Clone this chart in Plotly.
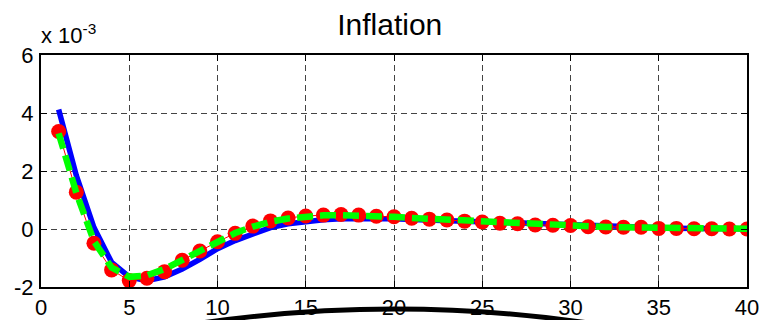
import plotly.graph_objects as go

# Horizon (periods)
periods = list(range(1, 41))

# Inflation responses, in units of 1e-3
model_a = [4.12, 1.85, 0.05, -1.15, -1.65, -1.78, -1.65, -1.38, -1.05, -0.68,
           -0.40, -0.15, 0.05, 0.18, 0.26, 0.32, 0.35, 0.36, 0.36, 0.35,
           0.33, 0.31, 0.28, 0.25, 0.22, 0.20, 0.17, 0.15, 0.13, 0.11,
           0.09, 0.08, 0.06, 0.05, 0.04, 0.03, 0.02, 0.02, 0.01, 0.01]
model_b = [3.36, 1.27, -0.49, -1.41, -1.78, -1.70, -1.47, -1.08, -0.76, -0.44,
           -0.15, 0.10, 0.28, 0.38, 0.45, 0.48, 0.50, 0.48, 0.44, 0.42,
           0.37, 0.34, 0.31, 0.27, 0.24, 0.20, 0.18, 0.14, 0.13, 0.12,
           0.08, 0.07, 0.06, 0.06, 0.02, 0.02, 0.01, 0.01, 0.00, 0.00]
model_c = [3.30, 1.25, -0.42, -1.33, -1.65, -1.60, -1.38, -1.08, -0.74, -0.42,
           -0.14, 0.08, 0.25, 0.36, 0.43, 0.47, 0.48, 0.47, 0.45, 0.42,
           0.38, 0.35, 0.31, 0.28, 0.24, 0.21, 0.18, 0.15, 0.13, 0.11,
           0.09, 0.07, 0.06, 0.05, 0.04, 0.03, 0.02, 0.02, 0.01, 0.01]

x_ticks = [0, 5, 10, 15, 20, 25, 30, 35, 40]
y_ticks = [-2, 0, 2, 4, 6]

FONT = "Arial, Liberation Sans, Helvetica, sans-serif"

fig = go.Figure()
fig.add_trace(go.Scatter(x=periods, y=model_a, mode="lines",
                         line=dict(color="#0000ff", width=5.5)))
fig.add_trace(go.Scatter(x=periods, y=model_b, mode="lines+markers",
                         line=dict(color="#ff0000", width=1),
                         marker=dict(color="#ff0000", size=15, line=dict(width=0))))
fig.add_trace(go.Scatter(x=periods, y=model_c, mode="lines",
                         line=dict(color="#00ff00", width=6.5, dash="16px,7px")))

axis_common = dict(
    showline=True, mirror="ticks", linecolor="black", linewidth=2,
    ticks="inside", ticklen=6, tickcolor="black", tickwidth=1,
    showgrid=True, gridcolor="#444444", gridwidth=1, griddash="6px,4px",
    zeroline=False, automargin=False,
    tickfont=dict(family=FONT, size=22, color="black"),
)

fig.update_xaxes(range=[0, 40], tickvals=x_ticks, ticktext=[str(v) for v in x_ticks],
                 ticklabelstandoff=0, **axis_common)
fig.update_yaxes(range=[-2, 6], tickvals=y_ticks, ticktext=[str(v) for v in y_ticks],
                 ticklabelstandoff=1, **axis_common)

fig.update_layout(
    width=760, height=320,
    margin=dict(l=41, r=13, t=55, b=33),
    paper_bgcolor="white", plot_bgcolor="white",
    showlegend=False,
    title=dict(text="Inflation", xref="paper", x=0.494, xanchor="center",
               y=0.925, yanchor="middle",
               font=dict(family=FONT, size=30, color="black")),
    annotations=[dict(text="x 10<sup>-3</sup>", xref="paper", yref="paper",
                      x=-0.003, y=1.02, xanchor="left", yanchor="bottom",
                      showarrow=False, font=dict(family=FONT, size=22, color="black"))],
    shapes=[dict(type="path", xref="paper", yref="paper",
                 path="M 0.1657 -0.1853 Q 0.5014 -0.0043 0.8371 -0.1853",
                 line=dict(color="black", width=5), layer="above")],
)

fig.write_html("out.html")
